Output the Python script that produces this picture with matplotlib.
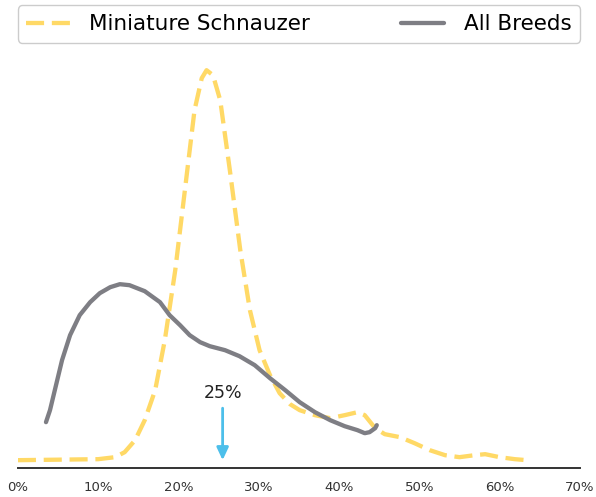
import matplotlib.pyplot as plt
from matplotlib.ticker import FuncFormatter

# Share of dogs (%) vs density
schnauzer_x = [0.0, 10.0, 12.1, 13.3, 14.6, 15.8, 17.1, 18.3, 19.6, 20.8, 22.0, 22.9, 23.5,
               24.3, 25.2, 26.4, 27.7, 28.9, 30.1, 31.4, 32.6, 33.9, 35.1, 37.0, 38.9, 40.7,
               42.3, 43.2, 44.5, 45.7, 47.6, 49.4, 51.3, 53.2, 55.0, 56.9, 58.2, 60.0, 61.9, 63.4]
schnauzer_y = [0.00, 0.01, 0.03, 0.08, 0.20, 0.40, 0.70, 1.20, 1.90, 2.70, 3.50, 3.82, 3.90,
               3.85, 3.60, 2.90, 2.10, 1.50, 1.10, 0.85, 0.67, 0.56, 0.50, 0.45, 0.42, 0.45,
               0.48, 0.45, 0.32, 0.26, 0.23, 0.17, 0.10, 0.05, 0.03, 0.05, 0.06, 0.03, 0.01, 0.00]

all_x = [3.5, 4.0, 4.6, 5.5, 6.5, 7.7, 9.0, 10.2, 11.5, 12.7, 13.9, 15.8, 17.7, 18.9, 20.2,
         21.4, 22.7, 23.9, 25.8, 27.6, 29.5, 31.4, 33.3, 35.1, 37.0, 38.9, 40.7, 42.3, 43.2,
         43.8, 44.5, 44.7]
all_y = [0.38, 0.50, 0.70, 1.00, 1.25, 1.45, 1.58, 1.67, 1.73, 1.76, 1.75, 1.69, 1.58, 1.45,
         1.35, 1.25, 1.18, 1.14, 1.10, 1.04, 0.95, 0.82, 0.70, 0.58, 0.48, 0.40, 0.34, 0.30,
         0.27, 0.28, 0.32, 0.35]

mean_pct = 25.5
mean_label = "25%"

fig = plt.figure(figsize=(5.96, 4.97), dpi=100)
ax = fig.add_axes([0.030, 0.058, 0.943, 0.841])

ax.plot(schnauzer_x, schnauzer_y, color="#FFD966", lw=3.1, dashes=(4.2, 1.8),
        label="Miniature Schnauzer")
ax.plot(all_x, all_y, color="#7E7E84", lw=3.1, label="All Breeds", solid_capstyle="round")

# arrow pointing at the breed average
ax.annotate("", xy=(mean_pct, 0.0), xytext=(mean_pct, 0.52),
            arrowprops=dict(arrowstyle="-|>,head_width=0.35,head_length=0.75",
                            color="#4DBFEA", lw=2, shrinkA=0, shrinkB=0))
ax.text(mean_pct, 0.67, mean_label, ha="center", va="center", fontsize=12.5, color="#222222")

ax.set_xlim(0, 70)
ax.set_ylim(-0.08, 4.1)
ax.set_xticks(range(0, 71, 10))
ax.xaxis.set_major_formatter(FuncFormatter(lambda v, p: f"{int(v)}%"))
ax.tick_params(axis="x", length=0, pad=9, labelsize=9.5, labelcolor="#333333")
ax.set_yticks([])
for s in ["left", "right", "top"]:
    ax.spines[s].set_visible(False)
ax.spines["bottom"].set_color("#333333")
ax.spines["bottom"].set_linewidth(1.4)

fig.legend(loc="center", bbox_to_anchor=(0.030, 0.913, 0.943, 0.077), mode="expand",
           ncol=2, fontsize=15.5, frameon=True, edgecolor="#cccccc", framealpha=1,
           handlelength=2.0, handletextpad=0.9, borderaxespad=0)

fig.savefig("out.png", dpi=100)
